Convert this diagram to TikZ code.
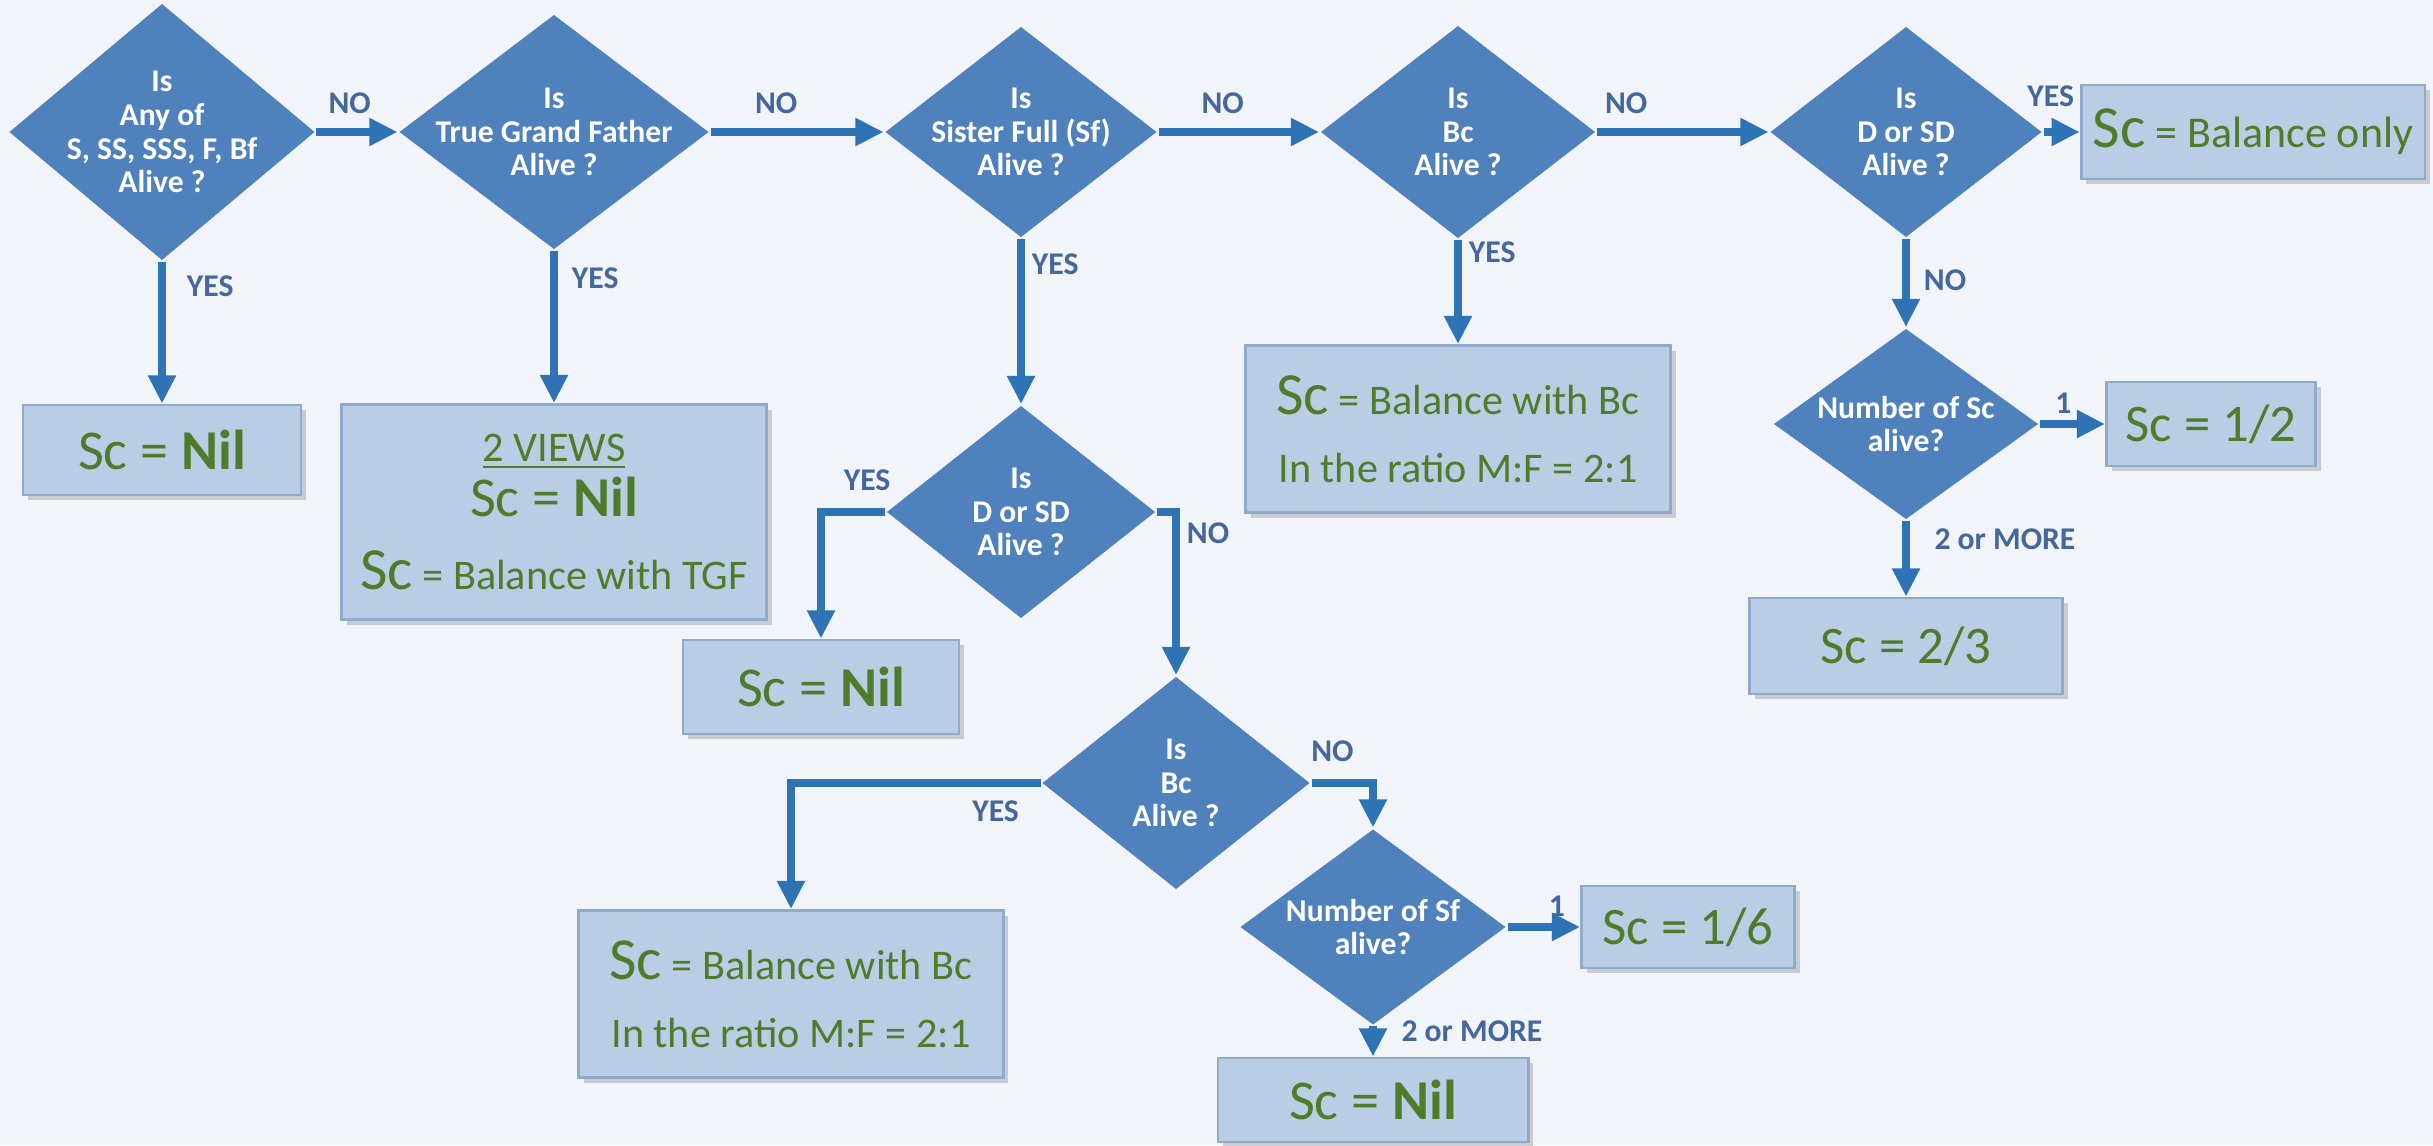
\documentclass[tikz,border=0pt]{standalone}
\usepackage{fontspec}
\setmainfont{Carlito}
\usetikzlibrary{arrows.meta, shapes.geometric, shadows}
\definecolor{qblue}{RGB}{79,129,189}
\definecolor{ablue}{RGB}{46,116,181}
\definecolor{boxfill}{RGB}{185,205,229}
\definecolor{boxline}{RGB}{143,170,205}
\definecolor{ansgreen}{RGB}{79,124,42}
\definecolor{labblue}{RGB}{70,103,155}
\definecolor{bgcol}{RGB}{241,244,248}
\tikzstyle{decision} = [diamond, fill=qblue, inner sep=0pt]
\tikzstyle{qtext} = [text=white, font=\bfseries\fontsize{9}{9.6}\selectfont, align=center]
\tikzstyle{answer} = [rectangle, fill=boxfill, draw=boxline, line width=0.8pt, text=ansgreen,
   align=center, font=\fontsize{12}{14.4}\selectfont,
   drop shadow={shadow xshift=1.5pt, shadow yshift=-1.5pt, opacity=0.35}]
\tikzstyle{flow} = [draw=ablue, line width=2.2pt, -{Triangle[length=8pt,width=7.5pt]}]
\tikzstyle{lab} = [text=labblue, font=\bfseries\fontsize{9}{10}\selectfont, inner sep=2pt]
\newcommand{\ScBig}{{\fontsize{17}{20}\selectfont Sc}}

\begin{document}
\begin{tikzpicture}[thick, x=0.01cm, y=-0.01cm]
  \useasboundingbox (0,0) rectangle (2433,1145);
  \fill[bgcol] (0,0) rectangle (2433,1145);
  % questions
  \node[decision, minimum width=3.06cm, minimum height=2.57cm, label={[qtext]center:Is\\Any of\\S, SS, SSS, F, Bf\\Alive ?}] (any) at (162,132) {};
  \node[decision, minimum width=3.10cm, minimum height=2.35cm, label={[qtext]center:Is\\True Grand Father\\Alive ?}] (tgf) at (554,132) {};
  \node[decision, minimum width=2.72cm, minimum height=2.11cm, label={[qtext]center:Is\\Sister Full (Sf)\\Alive ?}] (sf) at (1021,132) {};
  \node[decision, minimum width=2.75cm, minimum height=2.13cm, label={[qtext]center:Is\\Bc\\Alive ?}] (bc) at (1458,132) {};
  \node[decision, minimum width=2.72cm, minimum height=2.11cm, label={[qtext]center:Is\\D or SD\\Alive ?}] (dsd) at (1906,132) {};
  \node[decision, minimum width=2.65cm, minimum height=1.91cm, label={[qtext]center:Number of Sc\\alive?}] (nsc) at (1906,424) {};
  \node[decision, minimum width=2.69cm, minimum height=2.13cm, label={[qtext]center:Is\\D or SD\\Alive ?}] (dsd2) at (1021,512) {};
  \node[decision, minimum width=2.68cm, minimum height=2.13cm, label={[qtext]center:Is\\Bc\\Alive ?}] (bc2) at (1176,783) {};
  \node[decision, minimum width=2.66cm, minimum height=1.96cm, label={[qtext]center:Number of Sf\\alive?}] (nsf) at (1373,927) {};

  % answers
  \node[answer, minimum width=2.78cm, minimum height=0.90cm, font=\fontsize{16}{19}\selectfont] (nil1) at (162,450) {Sc = \textbf{Nil}};
  \node[answer, minimum width=4.25cm, minimum height=2.15cm] (views) at (554,512)
     {\underline{2 VIEWS}\\[1.2pt]{\fontsize{16}{19}\selectfont Sc = \textbf{Nil}}\\[6.3pt]\ScBig{} = Balance with TGF};
  \node[answer, minimum width=2.76cm, minimum height=0.94cm, font=\fontsize{16}{19}\selectfont] (nil2) at (821,687) {Sc = \textbf{Nil}};
  \node[answer, minimum width=4.24cm, minimum height=1.67cm] (bwbc) at (791,994) {\ScBig{} = Balance with Bc\\[5pt]In the ratio M:F = 2:1};
  \node[answer, minimum width=4.25cm, minimum height=1.67cm] (bwbc2) at (1458,429) {\ScBig{} = Balance with Bc\\[5pt]In the ratio M:F = 2:1};
  \node[answer, minimum width=3.34cm, minimum height=0.94cm, font=\fontsize{12.5}{15}\selectfont] (balonly) at (2253,132) {\ScBig{} = Balance only};
  \node[answer, minimum width=2.09cm, minimum height=0.84cm, font=\fontsize{15}{18}\selectfont] (half) at (2211,424) {Sc = 1/2};
  \node[answer, minimum width=3.13cm, minimum height=0.96cm, font=\fontsize{15}{18}\selectfont] (twothird) at (1906,646) {Sc = 2/3};
  \node[answer, minimum width=2.13cm, minimum height=0.82cm, font=\fontsize{15}{18}\selectfont] (sixth) at (1688,927) {Sc = 1/6};
  \node[answer, minimum width=3.10cm, minimum height=0.84cm, font=\fontsize{16}{19}\selectfont] (nil3) at (1373,1100) {Sc = \textbf{Nil}};

  % arrows
  \draw[flow] (any) -- node[lab, above=2pt, pos=0.41] (no1) {NO} (tgf);
  \draw[flow] (tgf) -- node[lab, above=2pt, pos=0.38] (no2) {NO} (sf);
  \draw[flow] (sf) -- node[lab, above=2pt, pos=0.40] (no3) {NO} (bc);
  \draw[flow] (bc) -- node[lab, above=2pt, pos=0.17] (no4) {NO} (dsd);
  \draw[flow] (dsd) -- node[lab, above=4pt, pos=0.2] (yes5) {YES} (balonly);
  \draw[flow] (any) -- node[lab, right=4pt, pos=0.17] (yes1) {YES} (nil1);
  \draw[flow] (tgf) -- node[lab, right=2pt, pos=0.18] (yes2) {YES} (views);
  \draw[flow] (sf) -- node[lab, right, pos=0.15] (yes3) {YES} (dsd2);
  \draw[flow] (bc) -- node[lab, right, pos=0.12] (yes4) {YES} (bwbc2);
  \draw[flow] (dsd) -- node[lab, right=2pt, pos=0.47] (no5) {NO} (nsc);
  \draw[flow] (nsc) -- node[lab, above, pos=0.36] (one1) {1} (half);
  \draw[flow] (nsc) -- node[lab, right=5pt, pos=0.24] (more1) {2 or MORE} (twothird);
  \draw[flow] (dsd2.west) -| node[lab, above=3pt, pos=0.14] (yes6) {YES} (nil2.north);
  \draw[flow] (dsd2.east) -| node[lab, below right, pos=0.5] (no6) {NO} (bc2.north);
  \draw[flow] (bc2.west) -| node[lab, below=2pt, pos=0.09] (yes7) {YES} (bwbc.north);
  \draw[flow] (bc2.east) -| node[lab, above=3pt, pos=0.17] (no7) {NO} (nsf.north);
  \draw[flow] (nsf) -- node[lab, above, pos=0.68] (one2) {1} (sixth);
  \draw[flow] (nsf) -- node[lab, right=5pt, pos=0.15] (more2) {2 or MORE} (nil3);
\end{tikzpicture}
\end{document}
